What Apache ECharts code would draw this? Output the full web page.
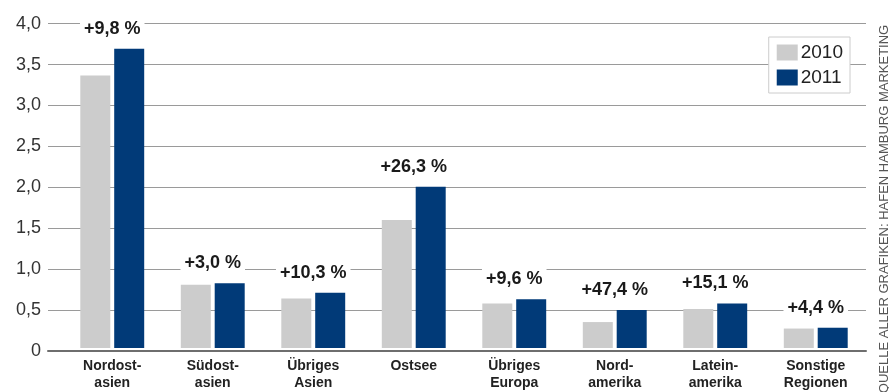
<!DOCTYPE html>
<html>
<head>
<meta charset="utf-8">
<script src="https://cdn.jsdelivr.net/npm/echarts@6/dist/echarts.min.js"></script>
<style>html,body{margin:0;padding:0;background:#fff;}#c{width:889px;height:392px;}</style>
</head>
<body>
<div id="c"></div>
<script>
const categories = ['Nordost-\nasien', 'Südost-\nasien', 'Übriges\nAsien', 'Ostsee', 'Übriges\nEuropa', 'Nord-\namerika', 'Latein-\namerika', 'Sonstige\nRegionen'];
const values2010 = [3.36, 0.78, 0.61, 1.58, 0.55, 0.32, 0.48, 0.24];
const values2011 = [3.69, 0.80, 0.68, 1.99, 0.60, 0.47, 0.55, 0.25];
const growthLabels = ['+9,8 %', '+3,0 %', '+10,3 %', '+26,3 %', '+9,6 %', '+47,4 %', '+15,1 %', '+4,4 %'];
const seriesNames = ['2010', '2011'];
const yTicks = { min: 0, max: 4, interval: 0.5 };
const sourceText = 'QUELLE ALLER GRAFIKEN: HAFEN HAMBURG MARKETING';

const FONT = '"Liberation Sans", Arial, Helvetica, sans-serif';
const GRAY = '#cccccc';
const BLUE = '#013a78';

const chart = echarts.init(document.getElementById('c'), null, { renderer: 'canvas' });
chart.setOption({
  animation: false,
  backgroundColor: '#ffffff',
  textStyle: { fontFamily: FONT },
  grid: [
    { left: 48, right: 23, top: 23.7, bottom: 41.3, containLabel: false },
    { left: 62, right: 23, top: 23.7, bottom: 41.3, containLabel: false }
  ],
  legend: {
    data: seriesNames,
    orient: 'vertical',
    right: 39, top: 37,
    backgroundColor: '#ffffff',
    borderColor: '#cccccc', borderWidth: 1, borderRadius: 0,
    padding: [6, 7, 6, 8],
    itemWidth: 21, itemHeight: 16, itemGap: 6,
    icon: 'rect',
    textStyle: { fontSize: 19, color: '#222', fontFamily: FONT, padding: [0, 0, 0, -2] }
  },
  xAxis: [
    { type: 'value', gridIndex: 0, min: 0, max: 1, show: true,
      axisLine: { show: true, onZero: false, lineStyle: { color: '#6e6e6e', width: 2 } },
      axisTick: { show: false }, axisLabel: { show: false }, splitLine: { show: false } },
    { type: 'category', gridIndex: 1, data: categories,
      axisLine: { show: false }, axisTick: { show: false },
      axisLabel: { fontSize: 14, fontWeight: 'bold', color: '#222', lineHeight: 17, margin: 10, fontFamily: FONT, interval: 0 } }
  ],
  yAxis: [
    { type: 'value', gridIndex: 0, min: yTicks.min, max: yTicks.max, interval: yTicks.interval,
      axisLine: { show: false }, axisTick: { show: false },
      axisLabel: { fontSize: 18, color: '#333', margin: 7, fontFamily: FONT,
        formatter: v => v === 0 ? '0' : v.toFixed(1).replace('.', ',') },
      splitLine: { show: true, lineStyle: { color: '#9a9a9a', width: 1 } } },
    { type: 'value', gridIndex: 1, min: yTicks.min, max: yTicks.max, interval: yTicks.interval, show: false }
  ],
  series: [
    { name: seriesNames[0], type: 'bar', xAxisIndex: 1, yAxisIndex: 1, data: values2010,
      barWidth: 30, barGap: '13%', itemStyle: { color: GRAY } },
    { name: seriesNames[1], type: 'bar', xAxisIndex: 1, yAxisIndex: 1, data: values2011,
      barWidth: 30, barGap: '13%', itemStyle: { color: BLUE } },
    { type: 'scatter', xAxisIndex: 1, yAxisIndex: 1, data: values2011, symbolSize: 0, silent: true,
      itemStyle: { opacity: 1 },
      label: { show: true, position: 'top', distance: 9,
        formatter: p => growthLabels[p.dataIndex],
        fontSize: 18, fontWeight: 'bold', color: '#1a1a1a', fontFamily: FONT,
        backgroundColor: '#ffffff', padding: [2, 4, 2, 4] } }
  ],
  graphic: [
    { type: 'text', x: 884, y: 209, rotation: Math.PI / 2,
      style: { text: sourceText, fontSize: 13, fill: '#555', fontFamily: FONT,
        textAlign: 'center', textVerticalAlign: 'middle' } }
  ]
});
</script>
</body>
</html>
